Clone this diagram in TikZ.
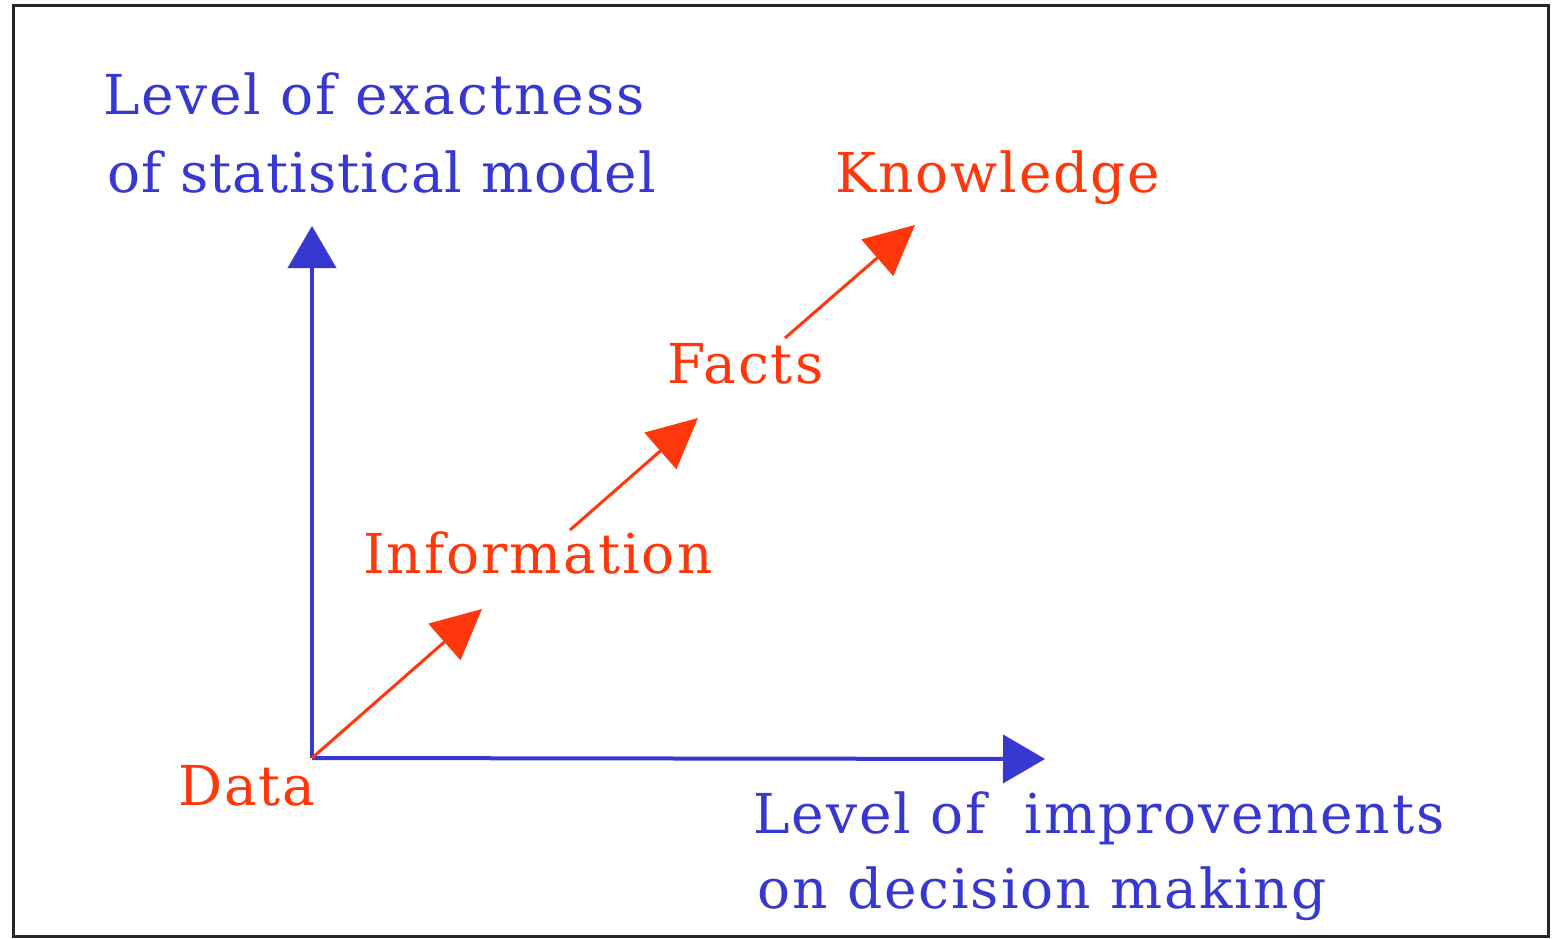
\documentclass[tikz,border=0pt]{standalone}
\usepackage{fontspec}
\setmainfont{DejaVu Serif}
\newfontfamily\lblfont{DejaVu Serif}[LetterSpace=3.5]
\newfontfamily\lblfontnarrow{DejaVu Serif}[LetterSpace=1.9]
\usetikzlibrary{arrows.meta}
\definecolor{axblue}{RGB}{55,55,210}
\definecolor{stepred}{RGB}{255,55,10}
\begin{document}
\begin{tikzpicture}[x=1pt,y=-1pt,
  lbl/.style={inner sep=0pt,anchor=base west,font=\lblfont\fontsize{55}{66}\selectfont},
  bluelbl/.style={lbl,text=axblue},
  redlbl/.style={lbl,text=stepred},
  axis/.style={draw=axblue,line width=4pt,-{Triangle[length=42pt,width=48pt]}},
  steparrow/.style={draw=stepred,line width=3pt,-{Triangle[length=50pt,width=48pt]}}]
\useasboundingbox (0,0) rectangle (1553,939);
\draw[line width=3pt,draw=black!85] (13,6) rectangle (1548,936);
% origin
\coordinate (o) at (312,758);
\coordinate (ytip) at (312,226);
\coordinate (xtip) at (1045,759);
\draw[axis] (o) -- (ytip);
\draw[axis] (o) -- (xtip);
% labels
\node[bluelbl] (ya1) at (103,115) {Level of exactness};
\node[bluelbl,font=\lblfontnarrow\fontsize{55}{66}\selectfont] (ya2) at (107,192) {of statistical model};
\node[bluelbl] (xa1) at (753,833) {Level of \ improvements};
\node[bluelbl] (xa2) at (757,908) {on decision making};
\node[redlbl] (data) at (178,805) {Data};
\node[redlbl] (info) at (363,573) {Information};
\node[redlbl] (facts) at (667,383) {Facts};
\node[redlbl] (know) at (835,193) {Knowledge};
% step arrows
\coordinate (s1) at (312,758);
\coordinate (t1) at (482,609);
\coordinate (s2) at (570,530);
\coordinate (t2) at (698,418);
\coordinate (s3) at (785,338);
\coordinate (t3) at (915,225);
\draw[steparrow] (s1) -- (t1);
\draw[steparrow] (s2) -- (t2);
\draw[steparrow] (s3) -- (t3);
\end{tikzpicture}
\end{document}
